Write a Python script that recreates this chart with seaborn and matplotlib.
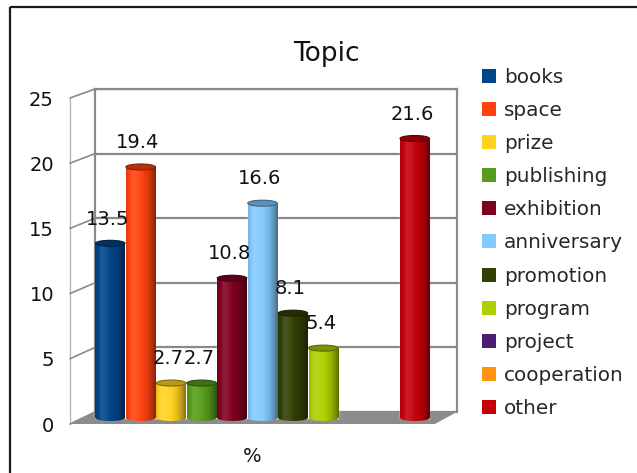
import numpy as np
import pandas as pd
import matplotlib
matplotlib.use("Agg")
import matplotlib.pyplot as plt
import matplotlib.colors as mcolors
from matplotlib.patches import Patch, Ellipse, Polygon
import seaborn as sns

# ---- data -------------------------------------------------------------
categories = ["books", "space", "prize", "publishing", "exhibition",
              "anniversary", "promotion", "program", "project",
              "cooperation", "other"]
shares = [13.5, 19.4, 2.7, 2.7, 10.8, 16.6, 8.1, 5.4, np.nan, np.nan, 21.6]
colors = ["#004586", "#ff420e", "#ffd320", "#579d1c", "#7e0021", "#83caff",
          "#314004", "#aecf00", "#4b1f6f", "#ff950e", "#c5000b"]
y_ticks = [0, 5, 10, 15, 20, 25]
title = "Topic"
x_label = "%"

df = pd.DataFrame({"topic": categories, "share": shares})

# ---- figure in pixel units ----------------------------------------------
W, H = 637, 473
sns.set_style("white")
plt.rcParams["font.family"] = ["DejaVu Sans"]
fig = plt.figure(figsize=(W / 100, H / 100), dpi=100)


def fig_rect(x0, x1, y_top, y_bot):
    return [x0 / W, 1 - y_bot / H, (x1 - x0) / W, (y_bot - y_top) / H]


# canvas for frame, floor, side wall and tick labels
canvas = fig.add_axes([0, 0, 1, 1], zorder=0)
canvas.set_xlim(0, W)
canvas.set_ylim(H, 0)
canvas.axis("off")

grid_c = "#8a8a8a"
ymax = y_ticks[-1]

# perspective geometry (pixels)
back_x0, back_x1, back_y0, back_y1 = 95, 457, 412, 89
front_x, front_y0, front_y1 = 70, 424, 98
back_scale = (back_y0 - back_y1) / ymax
front_scale = (front_y0 - front_y1) / ymax

# outer frame
canvas.plot([10, W], [7, 7], color="#1a1a1a", lw=1.6, solid_capstyle="butt")
canvas.plot([10, 10], [7, H], color="#1a1a1a", lw=1.6, solid_capstyle="butt")

# floor
canvas.add_patch(Polygon([(front_x, front_y0), (435, front_y0),
                          (back_x1, back_y0), (back_x0, back_y0)],
                         closed=True, facecolor="#8c8c8c", edgecolor="none"))

# side wall: front edge and slanted grid lines
canvas.plot([front_x, front_x], [front_y0, front_y1], color="#b0b0b0", lw=0.9)
for v in y_ticks:
    canvas.plot([front_x, back_x0],
                [front_y0 - v * front_scale, back_y0 - v * back_scale],
                color=grid_c, lw=1.2)
    canvas.text(54, front_y0 - v * front_scale, f"{v}", ha="right",
                va="center_baseline", fontsize=14, color="#111111")

# back wall with grid
wall = fig.add_axes(fig_rect(back_x0, back_x1, back_y1, back_y0), zorder=1)
wall.set_facecolor("none")
wall.set_ylim(0, ymax)
wall.set_xlim(0, 1)
wall.set_yticks(y_ticks)
wall.set_xticks([])
wall.tick_params(left=False, labelleft=False)
wall.grid(axis="y", color=grid_c, lw=1.6)
for side in ["left", "right", "top"]:
    wall.spines[side].set_color(grid_c)
    wall.spines[side].set_linewidth(1.6)
wall.spines["bottom"].set_visible(False)

# ---- bars -------------------------------------------------------------
bar_y0 = 418
bar_scale = 12.94
y_low = -1.0
ax = fig.add_axes(fig_rect(95, 430, bar_y0 - ymax * bar_scale,
                           bar_y0 - y_low * bar_scale), zorder=2)
ax.set_facecolor("none")
sns.barplot(data=df, x="topic", y="share", hue="topic", order=categories,
            hue_order=categories, palette=colors, width=0.97,
            errorbar=None, legend=False, ax=ax, saturation=1)
ax.set_xlim(-0.5, len(categories) - 0.5)
ax.set_ylim(y_low, ymax)
ax.axis("off")

cap_h = 6 / bar_scale
t_pts = [0.0, 0.22, 0.42, 0.72, 0.9, 1.0]
m_pts = [0.88, 1.12, 1.06, 0.88, 0.68, 0.52]
ts = np.linspace(0, 1, 80)
ms = np.interp(ts, t_pts, m_pts)


def shade(rgb, m):
    rgb = np.asarray(rgb, dtype=float)
    if m >= 1:
        return rgb + (1 - rgb) * (m - 1)
    return rgb * m


for p in list(ax.patches):
    h = p.get_height()
    if not np.isfinite(h) or h <= 0:
        continue
    x0, w = p.get_x(), p.get_width()
    xc = x0 + w / 2
    idx = int(round(xc))
    base = mcolors.to_rgb(colors[idx])
    grad = np.array([shade(base, m) for m in ms])[None, :, :]

    # cylinder body
    body = ax.imshow(grad, extent=(x0, x0 + w, 0, h), aspect="auto",
                     origin="lower", zorder=p.get_zorder() + 0.1,
                     interpolation="bilinear")
    body.set_clip_path(p)
    # rounded bottom
    bottom = Ellipse((xc, 0), w, cap_h, facecolor="none", edgecolor="none")
    ax.add_patch(bottom)
    foot = ax.imshow(grad, extent=(x0, x0 + w, -cap_h, 0), aspect="auto",
                     origin="lower", zorder=p.get_zorder() + 0.1,
                     interpolation="bilinear")
    foot.set_clip_path(bottom)
    # top cap
    ax.add_patch(Ellipse((xc, h), w, cap_h, facecolor=shade(base, 0.72),
                         edgecolor=shade(base, 0.5), lw=0.8,
                         zorder=p.get_zorder() + 0.2))
    ax.annotate(f"{h:g}", (xc, h), xytext=(-2, 13.5),
                textcoords="offset points", ha="center", va="baseline",
                fontsize=14, color="#111111", zorder=5)

ax.set_xlim(-0.5, len(categories) - 0.5)
ax.set_ylim(y_low, ymax)

# ---- title, axis label, legend ---------------------------------------------
canvas.text(326, 61, title, ha="center", va="baseline", fontsize=19,
            color="#111111")
canvas.text(252, 462, x_label, ha="center", va="baseline", fontsize=14,
            color="#111111")

handles = [Patch(facecolor=c, edgecolor="none") for c in colors]
fig.legend(handles, categories, loc="upper left",
           bbox_to_anchor=(482 / W, 1 - 68 / H), frameon=False, fontsize=14.4,
           handlelength=0.7, handleheight=0.7, handletextpad=0.4,
           labelspacing=0.705, borderpad=0, borderaxespad=0)

fig.savefig("out.png", dpi=100)
